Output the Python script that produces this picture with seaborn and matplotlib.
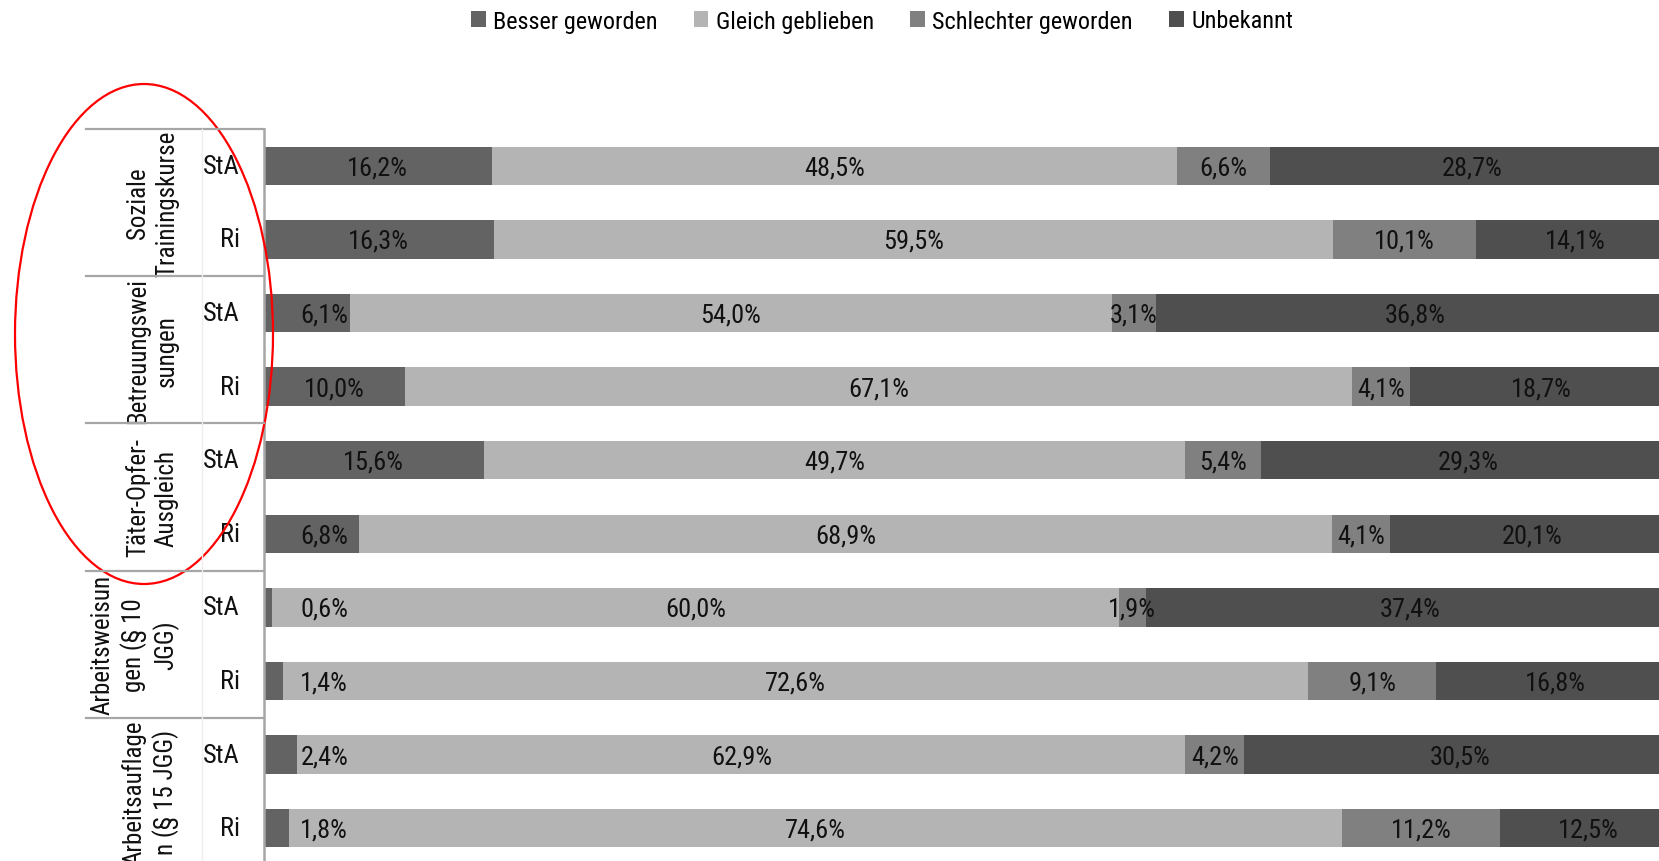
import matplotlib
matplotlib.use("Agg")
import matplotlib.pyplot as plt
import matplotlib.font_manager as fm
import matplotlib.transforms as mtransforms
from matplotlib.patches import Patch, Ellipse
from matplotlib.lines import Line2D
import seaborn as sns
import pandas as pd
import numpy as np

# ---------------- data ----------------
groups = ["Soziale\nTrainingskurse", "Betreuungswei\nsungen", "Täter-Opfer-\nAusgleich",
          "Arbeitsweisun\ngen (§ 10\nJGG)", "Arbeitsauflage\nn (§ 15 JGG)"]
sources = ["StA", "Ri"]
series_names = ["Besser geworden", "Gleich geblieben", "Schlechter geworden", "Unbekannt"]
besser = [16.2, 16.3, 6.1, 10.0, 15.6, 6.8, 0.6, 1.4, 2.4, 1.8]
gleich = [48.5, 59.5, 54.0, 67.1, 49.7, 68.9, 60.0, 72.6, 62.9, 74.6]
schlechter = [6.6, 10.1, 3.1, 4.1, 5.4, 4.1, 1.9, 9.1, 4.2, 11.2]
unbekannt = [28.7, 14.1, 36.8, 18.7, 29.3, 20.1, 37.4, 16.8, 30.5, 12.5]

colors = ["#636363", "#b4b4b4", "#808080", "#4f4f4f"]

# ---------------- font ----------------
names = {f.name for f in fm.fontManager.ttflist}
main_font = "Liberation Sans"
for cand in ["Liberation Sans Narrow", "Arial Narrow", "Roboto Condensed", "Archivo Narrow",
             "PT Sans Narrow", "Open Sans Condensed"]:
    if cand in names:
        main_font = cand
        break
plt.rcParams["font.family"] = [main_font, "DejaVu Sans"]

W, H = 1659, 862
fig = plt.figure(figsize=(W / 100, H / 100), dpi=100)
fig.patch.set_facecolor("white")

ax_left = 263.5 / W
ax_right = 1675 / W
ax_top = 1 - 130 / H
ax_bottom = 1 - 866 / H
ax = fig.add_axes([ax_left, ax_bottom, ax_right - ax_left, ax_top - ax_bottom])

rows = [f"{g}|{s}" for g in groups for s in sources]
series = [besser, gleich, schlechter, unbekannt]
cum = np.cumsum(np.array(series), axis=0)
df = pd.DataFrame({"row": rows})
for i, name in enumerate(series_names):
    df[name] = cum[i]

# draw cumulative bars from full length back to first segment
for i in range(3, -1, -1):
    sns.barplot(data=df, x=series_names[i], y="row", order=rows, orient="h",
                color=colors[i], saturation=1, width=0.52, ax=ax)

ax.set_xlim(0, 100)
ax.set_ylim(9.5, -0.5)
ax.set_xlabel("")
ax.set_ylabel("")
ax.set_xticks([])
ax.set_yticks([])
for side in ["top", "right", "bottom"]:
    ax.spines[side].set_visible(False)
ax.spines["left"].set_color("#a6a6a6")
ax.spines["left"].set_linewidth(1.8)

# value labels
for r in range(len(rows)):
    starts = [0.0] + list(cum[:-1, r])
    for i in range(4):
        v = series[i][r]
        xc = starts[i] + v / 2
        if i == 0:
            xc = max(xc, 4.3)
        ax.text(xc, r + 0.02, f"{v:.1f}".replace(".", ",") + "%", ha="center", va="center",
                fontsize=19, color="#111111", clip_on=False)

# left table
blend = mtransforms.blended_transform_factory(fig.transFigure, ax.transData)
for yb in [-0.5, 1.5, 3.5, 5.5, 7.5]:
    fig.add_artist(Line2D([86 / W, ax_left], [yb, yb], transform=blend,
                          color="#a6a6a6", lw=1.6))
fig.add_artist(Line2D([202 / W, 202 / W], [-0.5, 9.5], transform=blend,
                      color="#eeeeee", lw=1.0))
for r in range(len(rows)):
    ax.text(240 / W, r, sources[r % 2], transform=blend, ha="right", va="center",
            fontsize=19, color="#111111")
for g, name in enumerate(groups):
    ax.text(179 / W, 2 * g + 0.5, name, transform=blend, ha="right", va="center",
            rotation=90, multialignment="center", fontsize=18, color="#111111",
            linespacing=1.25)

# red ellipse annotation
fig.add_artist(Ellipse((144 / W, 1 - 335 / H), 258 / W, 500 / H, transform=fig.transFigure,
                       fill=False, edgecolor="#ff0000", lw=1.6))

# legend
handles = [Patch(facecolor=c, edgecolor="none") for c in colors]
fig.legend(handles, series_names, loc="center", bbox_to_anchor=(882 / W, 1 - 22 / H),
           ncol=4, frameon=False, fontsize=17.5, handlelength=0.6, handleheight=0.6,
           handletextpad=0.3, columnspacing=1.5, borderaxespad=0)

fig.savefig("out.png", dpi=100)
